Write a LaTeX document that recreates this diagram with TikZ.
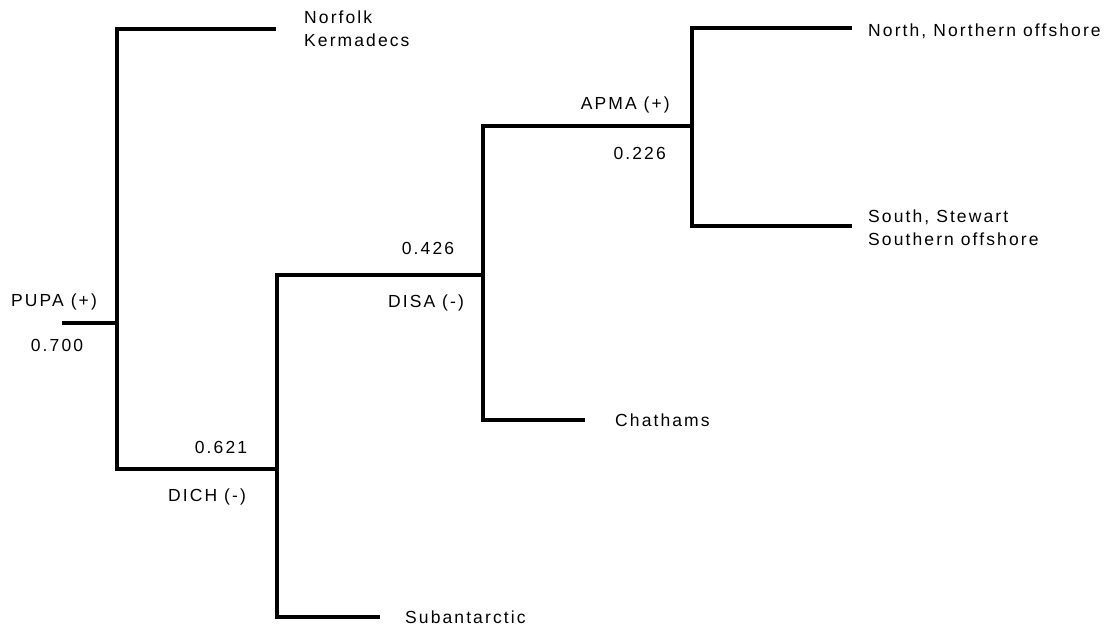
\documentclass[tikz,border=0pt]{standalone}
\usepackage{fontspec}
\setmainfont{Liberation Sans}[LetterSpace=12]
\begin{document}
\begin{tikzpicture}[x=1pt,y=-1pt,
  br/.style={line width=3.2pt, line join=miter},
  lbl/.style={font=\fontsize{17.5}{23}\selectfont, inner sep=0pt, align=left}]
\useasboundingbox (0,0) rectangle (1115,626);
% junctions
\coordinate (root) at (62,323);
\coordinate (pupa) at (117,323);
\coordinate (dich) at (277,469);
\coordinate (disa) at (483,275);
\coordinate (apma) at (692,126);
% leaf ends
\coordinate (nk) at (276,29);
\coordinate (nn) at (852,28);
\coordinate (ss) at (852,226);
\coordinate (ch) at (585,420);
\coordinate (sa) at (380,617);
% branches
\draw[br] (root) -- (pupa);
\draw[br] (nk) -| (pupa) |- (dich);
\draw[br] (disa) -| (dich) |- (sa);
\draw[br] (apma) -| (disa) |- (ch);
\draw[br] (nn) -| (apma) |- (ss);
% leaf labels
\node[lbl, anchor=west] (tnk) at (304,29) {Norfolk\\Kermadecs};
\node[lbl, anchor=west] (tnn) at (868,31) {North, Northern offshore};
\node[lbl, anchor=west] (tss) at (868,228) {South, Stewart\\Southern offshore};
\node[lbl, anchor=west] (tch) at (615,420) {Chathams};
\node[lbl, anchor=west] (tsa) at (405,617) {Subantarctic};
% internal labels
\node[lbl] (lpupa) at (54,302) {PUPA (+)};
\node[lbl] (vpupa) at (57,345) {0.700};
\node[lbl] (vdich) at (221,447) {0.621};
\node[lbl] (ldich) at (207,497) {DICH (-)};
\node[lbl] (vdisa) at (428,248) {0.426};
\node[lbl] (ldisa) at (426,303) {DISA (-)};
\node[lbl, anchor=east] (lapma) at (670,105) {APMA (+)};
\node[lbl, anchor=east] (vapma) at (666,153) {0.226};
\end{tikzpicture}
\end{document}
